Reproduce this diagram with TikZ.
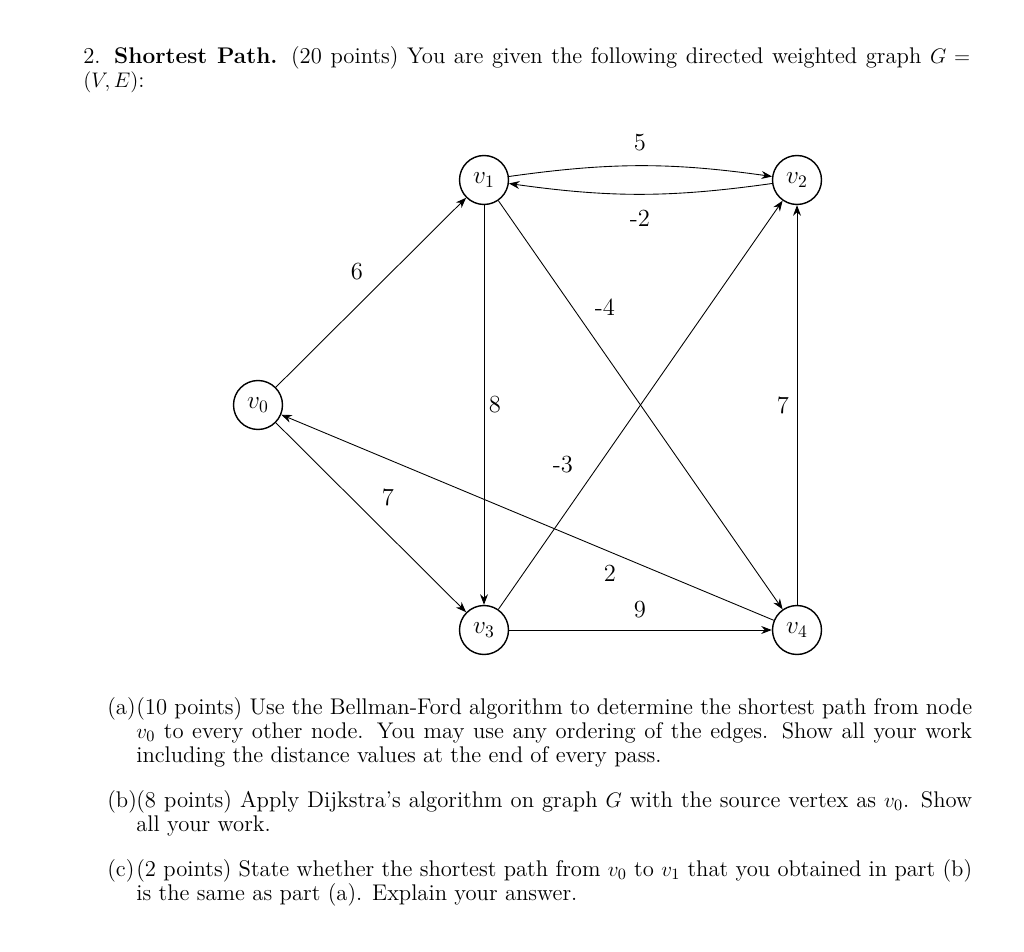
\documentclass[tikz,border=0pt]{standalone}
\usetikzlibrary{arrows.meta}
\begin{document}
\begin{tikzpicture}[x=0.02cm,y=-0.02cm,
  vtx/.style={circle,draw,thick,minimum size=0.98cm,inner sep=0pt,font=\fontsize{14}{16}\selectfont},
  edge/.style={-{Stealth[length=6pt,width=4.5pt]},line width=0.5pt},
  wt/.style={font=\fontsize{14}{16}\selectfont,inner sep=1pt},
  txt/.style={anchor=north west,inner sep=0pt,align=justify,font=\fontsize{12.9}{13.7}\selectfont}]
\useasboundingbox (0,0) rectangle (1024,952);
\node[txt,text width=17.74cm] (hdr) at (83,46) {2. \textbf{Shortest Path.} (20 points) You are given the following directed weighted graph $G=$ $(V,E)$:};
\node[vtx] (v0) at (258,405) {$v_0$};
\node[vtx] (v1) at (484,180) {$v_1$};
\node[vtx] (v2) at (797,180) {$v_2$};
\node[vtx] (v3) at (484,630) {$v_3$};
\node[vtx] (v4) at (797,630) {$v_4$};
\draw[edge] (v0) -- (v1);
\draw[edge] (v1) to[bend left=8] (v2);
\draw[edge] (v2) to[bend left=8] (v1);
\draw[edge] (v1) -- (v3);
\draw[edge] (v1) -- (v4);
\draw[edge] (v3) -- (v2);
\draw[edge] (v4) -- (v2);
\draw[edge] (v0) -- (v3);
\draw[edge] (v4) -- (v0);
\draw[edge] (v3) -- (v4);
\node[wt] (w6) at (357,272) {6};
\node[wt] (w5) at (640,143) {5};
\node[wt] (wm2) at (640,218) {-2};
\node[wt] (w8) at (495,405) {8};
\node[wt] (wm4) at (605,307) {-4};
\node[wt] (wm3) at (563,465) {-3};
\node[wt] (w7a) at (783,405) {7};
\node[wt] (w7b) at (388,497) {7};
\node[wt] (w2) at (610,573) {2};
\node[wt] (w9) at (640,610) {9};
\node[txt] (la) at (107,697) {(a)};
\node[txt,text width=16.72cm] (ta) at (136,697) {(10 points) Use the Bellman-Ford algorithm to determine the shortest path from node $v_0$ to every other node. You may use any ordering of the edges. Show all your work including the distance values at the end of every pass.};
\node[txt] (lb) at (107,790) {(b)};
\node[txt,text width=16.72cm] (tb) at (136,790) {(8 points) Apply Dijkstra's algorithm on graph $G$ with the source vertex as $v_0$. Show all your work.};
\node[txt] (lc) at (107,859) {(c)};
\node[txt,text width=16.72cm] (tc) at (136,859) {(2 points) State whether the shortest path from $v_0$ to $v_1$ that you obtained in part (b) is the same as part (a). Explain your answer.};
\end{tikzpicture}
\end{document}
